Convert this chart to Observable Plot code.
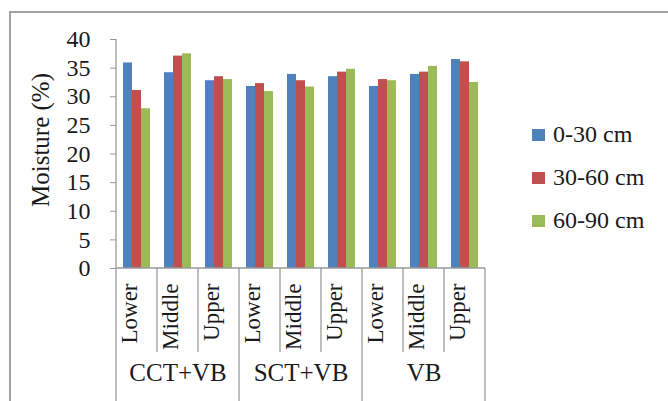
<!DOCTYPE html>
<html>
<head>
<meta charset="utf-8">
<script src="https://cdn.jsdelivr.net/npm/d3@7"></script>
<script src="https://cdn.jsdelivr.net/npm/@observablehq/plot@0.6"></script>
<style>
  html, body { margin: 0; padding: 0; background: #fff; }
  #chart { position: relative; width: 668px; height: 401px; overflow: hidden; }
  #legend { position: absolute; left: 532px; top: 113px; font-family: "Liberation Serif", "Times New Roman", serif; font-size: 24px; color: #1a1a1a; }
  #legend .item { display: flex; align-items: center; height: 43px; }
  #legend .sw { width: 13px; height: 12px; margin-right: 8px; }
</style>
</head>
<body>
<div id="chart"></div>
<script>
// Soil moisture by slope position and treatment
const groups = ["CCT+VB", "SCT+VB", "VB"];
const positions = ["Lower", "Middle", "Upper"];
const depths = ["0-30 cm", "30-60 cm", "60-90 cm"];
const colors = ["#4F81BD", "#C0504D", "#9BBB59"];
const yTicks = [0, 5, 10, 15, 20, 25, 30, 35, 40];

// values in order: CCT+VB Lower/Middle/Upper, SCT+VB ..., VB ...
const depth0to30 = [35.9, 34.2, 32.8, 31.8, 33.9, 33.5, 31.8, 33.9, 36.5];
const depth30to60 = [31.1, 37.1, 33.5, 32.3, 32.8, 34.3, 33.0, 34.3, 36.1];
const depth60to90 = [27.9, 37.5, 33.0, 30.9, 31.7, 34.8, 32.8, 35.3, 32.5];

const series = [depth0to30, depth30to60, depth60to90];
const cats = groups.flatMap(g => positions.map(p => ({group: g, position: p, key: g + "|" + p})));
const keys = cats.map(c => c.key);
const rows = cats.flatMap((c, i) => depths.map((d, j) => ({key: c.key, depth: d, value: series[j][i]})));
const groupMids = groups.map(g => ({group: g, key: g + "|" + positions[1]}));

const font = "'Liberation Serif', 'Times New Roman', serif";
const axisGrey = "#9a9a9a";

const plot = Plot.plot({
  width: 668,
  height: 401,
  marginLeft: 113,
  marginRight: 181,
  marginTop: 39,
  marginBottom: 133,
  style: {fontFamily: font, color: "#1a1a1a", background: "transparent", overflow: "hidden"},
  fx: {domain: keys, padding: 0, axis: null, label: null},
  x: {domain: depths, paddingInner: 0, paddingOuter: 0.75, axis: null},
  y: {domain: [0, 40]},
  color: {domain: depths, range: colors},
  marks: [
    Plot.axisY({ticks: yTicks, tickSize: 6, tickPadding: 20, fontSize: 24, stroke: axisGrey, label: null}),
    Plot.barY(rows, {fx: "key", x: "depth", y: "value", fill: "depth"}),
    Plot.text(cats, {fx: "key", text: "position", frameAnchor: "bottom", rotate: -90, textAnchor: "end", dy: 15, fontSize: 23}),
    Plot.text(groupMids, {fx: "key", text: "group", frameAnchor: "bottom", dy: 112, fontSize: 25})
  ]
});

// category axis: baseline, separators between positions and between treatments
const fx = plot.scale("fx");
const y = plot.scale("y");
const svg = d3.select(plot);
const g = svg.append("g").attr("stroke", axisGrey).attr("stroke-width", 1.3);
const y0 = y.apply(0);
const bounds = keys.map(k => fx.apply(k)).concat([fx.apply(keys[keys.length - 1]) + fx.bandwidth]);
g.append("line").attr("x1", bounds[0]).attr("x2", bounds[bounds.length - 1]).attr("y1", y0).attr("y2", y0);
g.append("line").attr("x1", bounds[0]).attr("x2", bounds[0]).attr("y1", y.apply(40)).attr("y2", y0);
bounds.forEach((bx, i) => {
  g.append("line").attr("x1", bx).attr("x2", bx).attr("y1", y0).attr("y2", i % 3 === 0 ? 401 : y0 + 84);
});

// outer chart border
svg.append("rect").attr("x", 10).attr("y", 12).attr("width", 700).attr("height", 420)
  .attr("fill", "none").attr("stroke", "#a3a3a3").attr("stroke-width", 2);

// y-axis title
svg.append("text").attr("transform", "translate(40,140) rotate(-90)")
  .attr("text-anchor", "middle").attr("dy", "0.35em")
  .attr("font-size", 25).attr("fill", "#1a1a1a").text("Moisture (%)");

const chart = document.getElementById("chart");
chart.appendChild(plot);

// legend built from the color scale
const color = plot.scale("color");
const legend = document.createElement("div");
legend.id = "legend";
color.domain.forEach((d, i) => {
  const item = document.createElement("div");
  item.className = "item";
  const sw = document.createElement("span");
  sw.className = "sw";
  sw.style.background = color.range[i];
  const label = document.createElement("span");
  label.textContent = d;
  item.appendChild(sw);
  item.appendChild(label);
  legend.appendChild(item);
});
chart.appendChild(legend);
</script>
</body>
</html>
